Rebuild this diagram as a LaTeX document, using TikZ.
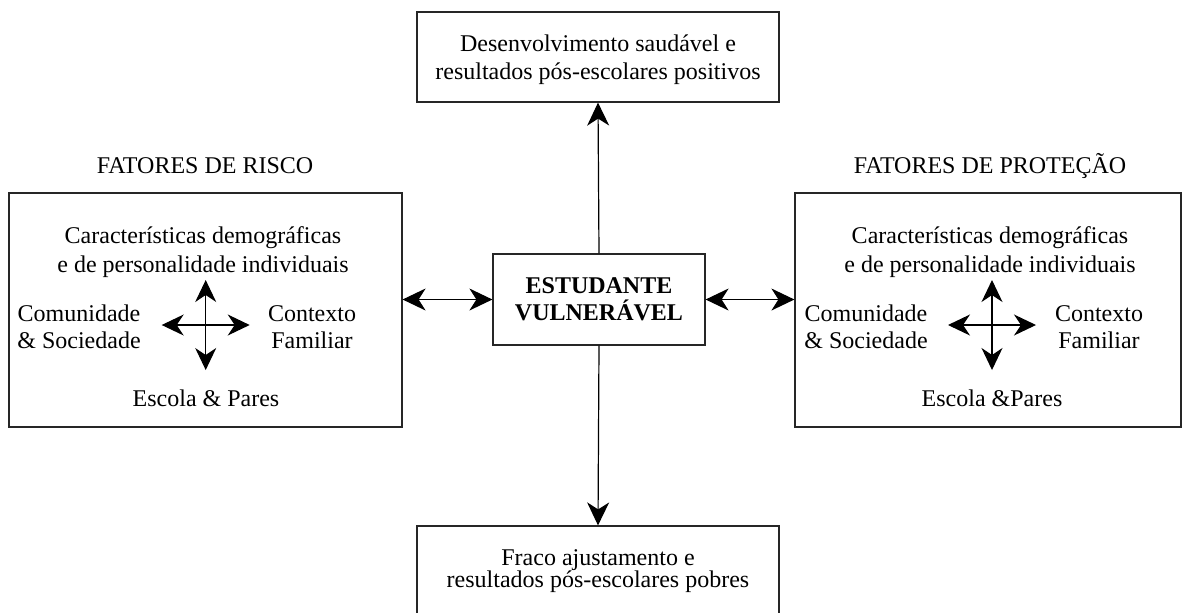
\documentclass[tikz,border=0pt]{standalone}
\usepackage{fontspec}
\setmainfont{Liberation Serif}
\usetikzlibrary{arrows.meta}
\begin{document}
\begin{tikzpicture}[x=0.5pt,y=-0.5pt,
  font=\fontsize{12}{14}\selectfont,
  box/.style={draw=black!85, line width=0.6pt, inner sep=0pt, align=center},
  mainarrow/.style={line width=0.6pt, {Stealth[length=11.5pt,width=11pt,inset=3.5pt]}-{Stealth[length=11.5pt,width=11pt,inset=3.5pt]}},
  onearrow/.style={line width=0.6pt, -{Stealth[length=11.5pt,width=11pt,inset=3.5pt]}},
  crossarrow/.style={line width=0.55pt, {Stealth[length=11pt,width=10.5pt,inset=3.5pt]}-{Stealth[length=11pt,width=10.5pt,inset=3.5pt]}},
  lbl/.style={align=center, inner sep=0pt}]
\clip (0,0) rectangle (1183,612);

% main boxes
\node[box, minimum width=181pt, minimum height=45pt] (T) at (598,57) {};
\node[lbl] at (598,60) {Desenvolvimento saudável e\\resultados pós-escolares positivos};

\node[box, minimum width=106pt, minimum height=45.5pt, font=\fontsize{12}{13.5}\selectfont\bfseries] (C) at (599,299.5) {ESTUDANTE\\VULNERÁVEL};

\node[box, minimum width=181pt, minimum height=45pt] (B) at (598,571) {};
\node[lbl, font=\fontsize{12}{11}\selectfont] at (598,571) {Fraco ajustamento e\\resultados pós-escolares pobres};

\node[box, minimum width=196.5pt, minimum height=117pt] (L) at (205.5,310) {};
\node[box, minimum width=193pt, minimum height=117pt] (R) at (988,310) {};

% titles
\node[lbl] (Lt) at (205,166) {FATORES DE RISCO};
\node[lbl] (Rt) at (990,166) {FATORES DE PROTEÇÃO};

% risk factors
\node[lbl, font=\fontsize{12}{14.5}\selectfont] (Ld) at (203,252) {Características demográficas\\e de personalidade individuais};
\node[lbl, font=\fontsize{12}{13.5}\selectfont] (Lc) at (79,327) {Comunidade\\\& Sociedade};
\node[lbl, font=\fontsize{12}{13.5}\selectfont] (Lf) at (312,327) {Contexto\\Familiar};
\node[lbl] (Le) at (206,398) {Escola \& Pares};
\coordinate (LX) at (205.7,325);
\draw[crossarrow] ([yshift=22.5pt]LX) -- ([yshift=-22.5pt]LX);
\draw[crossarrow] ([xshift=-22pt]LX) -- ([xshift=22pt]LX);

% protection factors
\node[lbl, font=\fontsize{12}{14.5}\selectfont] (Rd) at (990,252) {Características demográficas\\e de personalidade individuais};
\node[lbl, font=\fontsize{12}{13.5}\selectfont] (Rc) at (866,327) {Comunidade\\\& Sociedade};
\node[lbl, font=\fontsize{12}{13.5}\selectfont] (Rf) at (1099,327) {Contexto\\Familiar};
\node[lbl] (Re) at (992,398) {Escola \&Pares};
\coordinate (RX) at (992,325);
\draw[crossarrow] ([yshift=22.5pt]RX) -- ([yshift=-22.5pt]RX);
\draw[crossarrow] ([xshift=-22pt]RX) -- ([xshift=22pt]RX);

% connectors
\draw[mainarrow] (L.east |- C.west) -- (C.west);
\draw[mainarrow] (C.east) -- (R.west |- C.east);
\draw[onearrow] (C.north) -- (T.south);
\draw[onearrow] (C.south) -- (B.north);
\end{tikzpicture}
\end{document}
